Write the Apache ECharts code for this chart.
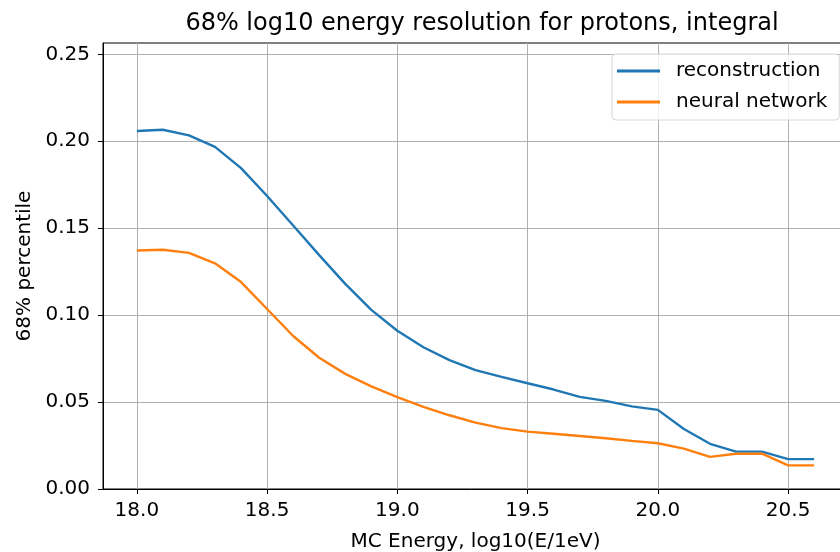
<!DOCTYPE html>
<html>
<head>
<meta charset="utf-8">
<script src="https://cdn.jsdelivr.net/npm/echarts@6/dist/echarts.min.js"></script>
<style>
html,body{margin:0;padding:0;background:#fff;}
#chart{width:840px;height:552px;}
</style>
</head>
<body>
<div id="chart"></div>
<script>
const energies = [18.0,18.1,18.2,18.3,18.4,18.5,18.6,18.7,18.8,18.9,19.0,19.1,19.2,19.3,19.4,19.5,19.6,19.7,19.8,19.9,20.0,20.1,20.2,20.3,20.4,20.5,20.6];
const reconstruction = [0.2059,0.2066,0.2034,0.1968,0.1845,0.1685,0.1515,0.1345,0.1180,0.1030,0.0910,0.0815,0.0741,0.0684,0.0645,0.0608,0.0572,0.0530,0.0507,0.0475,0.0455,0.0345,0.0260,0.0215,0.0215,0.0172,0.0172];
const neuralNetwork = [0.1372,0.1376,0.1358,0.1298,0.1190,0.1035,0.0880,0.0755,0.0662,0.0590,0.0528,0.0472,0.0424,0.0382,0.0350,0.0330,0.0318,0.0305,0.0292,0.0277,0.0263,0.0232,0.0185,0.0203,0.0203,0.0136,0.0136];
const xTicks = [18.0,18.5,19.0,19.5,20.0,20.5];
const yTicks = [0.00,0.05,0.10,0.15,0.20,0.25];

const font = 'DejaVu Sans';
const chart = echarts.init(document.getElementById('chart'), null, {renderer:'canvas'});
chart.setOption({
  animation:false,
  backgroundColor:'#fff',
  title:{
    text:'68% log10 energy resolution for protons, integral',
    left:477, top:7, textAlign:'center',
    textStyle:{fontFamily:font, fontSize:24, fontWeight:'normal', color:'#000'}
  },
  legend:{
    left:612, top:54, orient:'vertical',
    itemWidth:43, itemHeight:3, itemGap:11,
    icon:'rect',
    padding:[7,12,8,5],
    borderColor:'#d6d6d6', borderWidth:1, borderRadius:4,
    backgroundColor:'rgba(255,255,255,0.8)',
    textStyle:{fontFamily:font, fontSize:20, lineHeight:20, color:'#000', padding:[0,0,0,11]},
    data:['reconstruction','neural network']
  },
  grid:{
    left:103, top:43, width:745, height:446,
    outerBoundsMode:'none',
    show:true, borderColor:'#000', borderWidth:1, backgroundColor:'transparent'
  },
  xAxis:{
    type:'value', min:17.87, max:20.73,
    name:'MC Energy, log10(E/1eV)', nameLocation:'middle', nameGap:43,
    nameTextStyle:{fontFamily:font, fontSize:20, color:'#000'},
    axisLine:{show:true, onZero:false, lineStyle:{color:'#000', width:1}},
    axisTick:{show:true, length:5, lineStyle:{color:'#000'}, customValues:xTicks},
    axisLabel:{fontFamily:font, fontSize:20, color:'#000', margin:12, customValues:xTicks,
      formatter:v=>v.toFixed(1)},
    splitLine:{show:true, lineStyle:{color:'#b0b0b0', width:1}}
  },
  yAxis:{
    type:'value', min:0, max:0.2565,
    name:'68% percentile', nameLocation:'middle', nameGap:68, nameRotate:90,
    nameTextStyle:{fontFamily:font, fontSize:20, color:'#000'},
    axisLine:{show:true, lineStyle:{color:'#000', width:1}},
    axisTick:{show:true, length:5, lineStyle:{color:'#000'}, customValues:yTicks},
    axisLabel:{fontFamily:font, fontSize:20, color:'#000', margin:13, customValues:yTicks,
      formatter:v=>v.toFixed(2)},
    splitLine:{show:true, lineStyle:{color:'#b0b0b0', width:1}}
  },
  series:[
    {name:'reconstruction', type:'line', showSymbol:false, symbol:'none',
     data:energies.map((e,i)=>[e,reconstruction[i]]),
     lineStyle:{color:'#1f77b4', width:2.4}, itemStyle:{color:'#1f77b4'}},
    {name:'neural network', type:'line', showSymbol:false, symbol:'none',
     data:energies.map((e,i)=>[e,neuralNetwork[i]]),
     lineStyle:{color:'#ff7f0e', width:2.4}, itemStyle:{color:'#ff7f0e'}}
  ]
});
</script>
</body>
</html>
